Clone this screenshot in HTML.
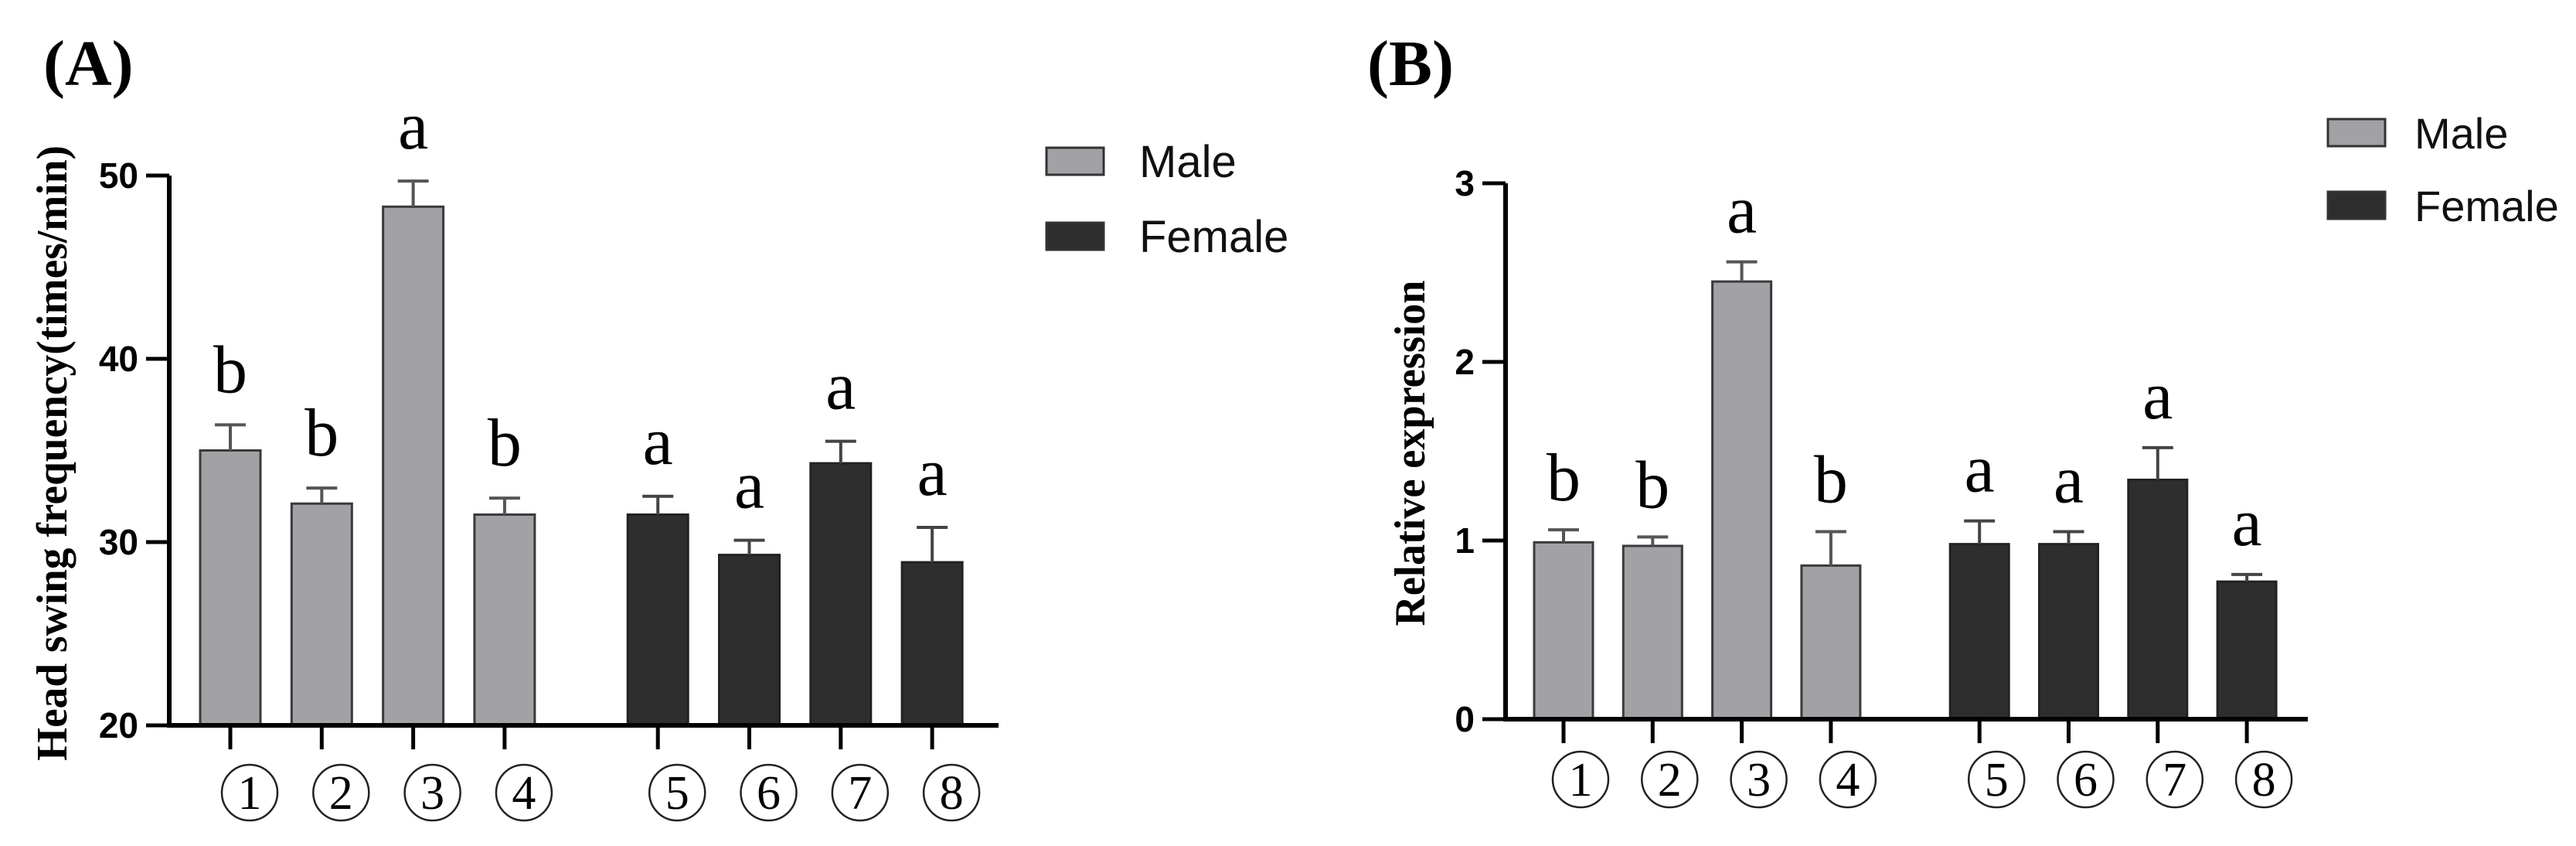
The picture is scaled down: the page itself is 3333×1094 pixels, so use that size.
<!DOCTYPE html>
<html><head><meta charset="utf-8"><style>
html,body{margin:0;padding:0;background:#fff;}
svg{display:block;}
</style></head><body>
<svg id="fig" width="3333" height="1094" viewBox="0 0 3333 1094" xmlns="http://www.w3.org/2000/svg">
<rect width="3333" height="1094" fill="#fff"/>
<text x="56" y="110" font-family="Liberation Serif, serif" font-weight="bold" font-size="84">(A)</text>
<text x="1769" y="110" font-family="Liberation Serif, serif" font-weight="bold" font-size="84">(B)</text>
<g id="gA"></g>
<g id="gB"></g>
</svg>
<script>
const categories = ["1","2","3","4","5","6","7","8"];
const groupOf = ["Male","Male","Male","Male","Female","Female","Female","Female"];
const valuesA = [35.0, 32.1, 48.3, 31.5, 31.5, 29.3, 34.3, 28.9];
const errA = [1.4, 0.85, 1.4, 0.9, 1.0, 0.8, 1.2, 1.9];
const lettersA = ["b","b","a","b","a","a","a","a"];
const ticksA = [20, 30, 40, 50];
const valuesB = [0.99, 0.97, 2.45, 0.86, 0.98, 0.98, 1.34, 0.77];
const errB = [0.07, 0.05, 0.11, 0.19, 0.13, 0.07, 0.18, 0.04];
const lettersB = ["b","b","a","b","a","a","a","a"];
const ticksB = [0, 1, 2, 3];

const NS = "http://www.w3.org/2000/svg";
function mk(parent, tag, attrs, text){
  const e = document.createElementNS(NS, tag);
  for (const k in attrs) e.setAttribute(k, attrs[k]);
  if (text !== undefined) e.textContent = text;
  parent.appendChild(e);
  return e;
}

function drawPanel(g, cfg, values, errs, letters, ticks, key){
  const y = v => cfg.y0 - (v - cfg.vmin) * (cfg.y0 - cfg.y1) / (cfg.vmax - cfg.vmin);
  const x = i => cfg.xStart + i * cfg.step + (i >= 4 ? cfg.gap : 0);
  const t = mk(g, "text", {x: cfg.titleX, y: cfg.titleY, transform: `rotate(-90 ${cfg.titleX} ${cfg.titleY})`, "text-anchor":"middle", "font-family":"Liberation Serif, serif", "font-weight": cfg.titleBold ? "bold":"normal", "font-size": cfg.titleSize, textLength: cfg.titleLen, lengthAdjust:"spacingAndGlyphs"}, cfg.title);
  
  
  values.forEach((v, i) => {
    const cx = x(i);
    const male = groupOf[i] === "Male";
    const r = mk(g, "rect", {x: cx - cfg.bw/2, y: y(v), width: cfg.bw, height: cfg.y0 - y(v), fill: male ? "#a2a2a6" : "#2e2e2e", stroke: male ? "#3a3a3a" : "#222", "stroke-width": 3});
    
    
    const et = y(v + errs[i]);
    const el = mk(g, "path", {d: `M${cx} ${y(v)} V${et} M${cx-20} ${et} H${cx+20}`, stroke: male ? "#555" : "#444", "stroke-width": 4, fill: "none"});
    
    
    const lt = mk(g, "text", {x: cx, y: et - cfg.letterGap, "text-anchor":"middle", "font-family":"Liberation Serif, serif", "font-size": 88, fill:"#000"}, letters[i]);
    
    
    const tk = mk(g, "line", {x1: cx, x2: cx, y1: cfg.y0, y2: cfg.y0 + 31, stroke:"#000", "stroke-width": 5});
    
    
    const cxl = cx + cfg.circOff;
    const c = mk(g, "circle", {cx: cxl, cy: cfg.circY, r: 36, fill:"none", stroke:"#222", "stroke-width": 2.5});
    
    
    const ct = mk(g, "text", {x: cxl, y: cfg.circY + 21, "text-anchor":"middle", "font-family":"Liberation Serif, serif", "font-size": 62, fill:"#000"}, categories[i]);
    
    
  });
  const ax = mk(g, "path", {d: `M${cfg.ax} ${y(ticks[ticks.length-1])} V${cfg.y0} H${cfg.xEnd}`, stroke:"#000", "stroke-width": 6, fill:"none"});
  
  
  ticks.forEach(tv => {
    const ty = y(tv);
    const tl = mk(g, "line", {x1: cfg.ax - 30, x2: cfg.ax, y1: ty, y2: ty, stroke:"#000", "stroke-width": 5});
    
    
    const tx = mk(g, "text", {x: cfg.ax - 40, y: ty + 16, "text-anchor":"end", "font-family":"Liberation Sans, sans-serif", "font-weight":"bold", "font-size": 46}, String(tv));
    
    
  });
  [["Male","#a2a2a6",cfg.legY[0]],["Female","#2e2e2e",cfg.legY[1]]].forEach(([name, col, ly]) => {
    const s = mk(g, "rect", {x: cfg.legX, y: ly, width: 74, height: 35, fill: col, stroke:"#333", "stroke-width": 3});
    
    
    const lt = mk(g, "text", {x: cfg.legX + cfg.legTextOff, y: ly + 38, "font-family":"Liberation Sans, sans-serif", "font-size": cfg.legSize, fill:"#111"}, name);
    
    
  });
}

drawPanel(document.getElementById("gA"), {
  vmin: 20, vmax: 50, y0: 938, y1: 227, ax: 219, xEnd: 1292,
  xStart: 298, step: 118.3, gap: 80, bw: 78, letterGap: 42,
  circOff: 25, circY: 1025,
  title: "Head swing frequency(times/min)", titleX: 86, titleY: 586, titleSize: 56, titleLen: 796, titleBold: true,
  legX: 1354, legY: [191, 288], legTextOff: 120, legSize: 58
}, valuesA, errA, lettersA, ticksA, "panel-a");

drawPanel(document.getElementById("gB"), {
  vmin: 0, vmax: 3, y0: 930, y1: 237, ax: 1948, xEnd: 2986,
  xStart: 2023, step: 115.3, gap: 77, bw: 76, letterGap: 38,
  circOff: 22, circY: 1008,
  title: "Relative expression", titleX: 1843, titleY: 586, titleSize: 56, titleLen: 447, titleBold: true,
  legX: 3012, legY: [154, 248], legTextOff: 112, legSize: 56
}, valuesB, errB, lettersB, ticksB, "panel-b");
</script>
</body></html>
